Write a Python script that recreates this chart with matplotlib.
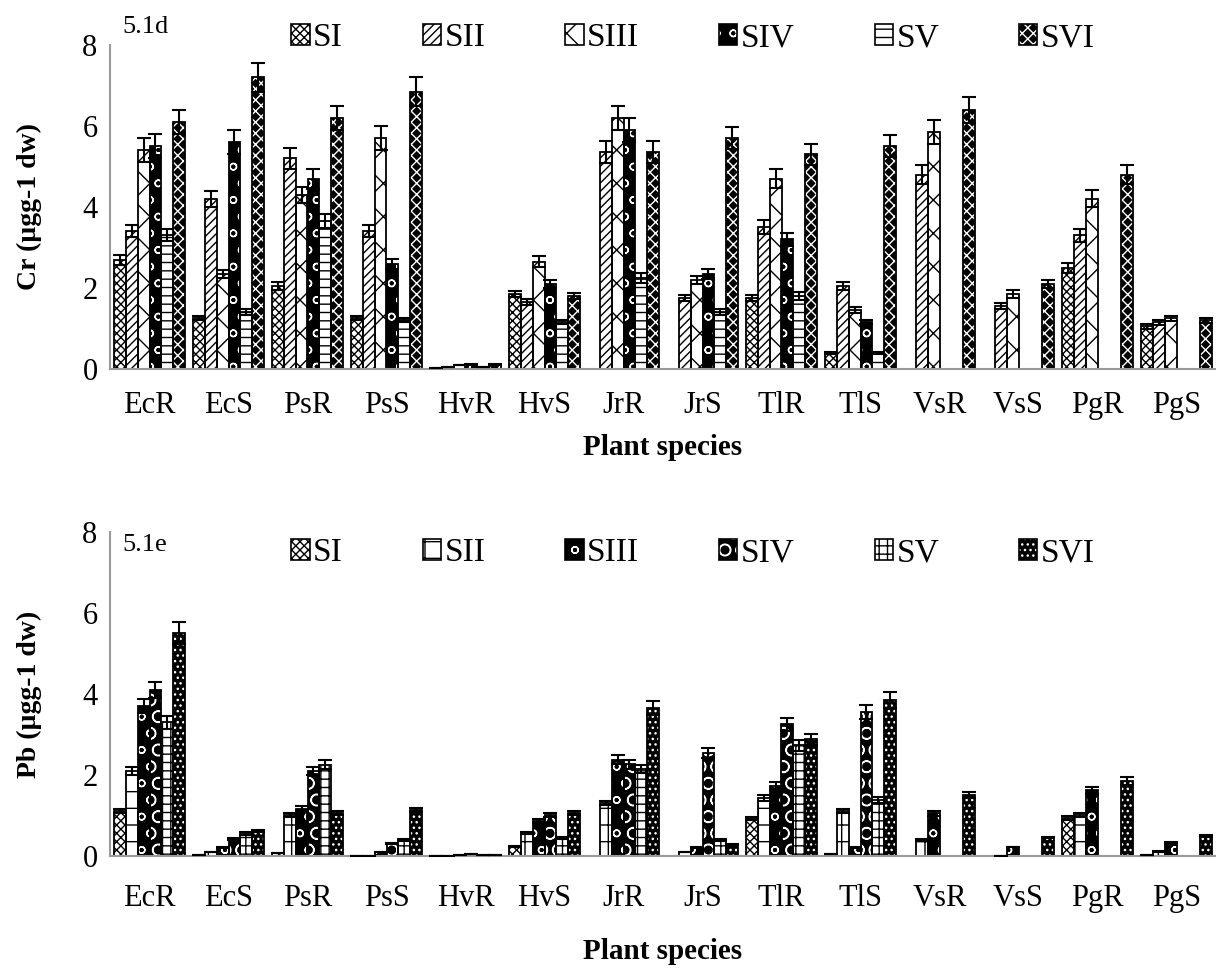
import matplotlib
matplotlib.use("Agg")
import matplotlib.pyplot as plt
import matplotlib.patches as mpatches
from matplotlib.legend_handler import HandlerTuple
import numpy as np

plt.rcParams['font.family'] = ['Liberation Serif', 'DejaVu Serif']
plt.rcParams['hatch.linewidth'] = 1.0

species = ["EcR", "EcS", "PsR", "PsS", "HvR", "HvS", "JrR", "JrS", "TlR", "TlS", "VsR", "VsS", "PgR", "PgS"]
sites = ["SI", "SII", "SIII", "SIV", "SV", "SVI"]

# Cr (5.1d), one list per site, 0 = no bar
cr_SI = [2.7, 1.25, 2.05, 1.25, 0.02, 1.85, 0, 0, 1.75, 0.4, 0, 0, 2.5, 1.05]
cr_SII = [3.4, 4.2, 5.2, 3.4, 0.04, 1.65, 5.35, 1.75, 3.5, 2.05, 4.8, 1.55, 3.3, 1.15]
cr_SIII = [5.4, 2.35, 4.3, 5.7, 0.1, 2.65, 6.2, 2.2, 4.7, 1.45, 5.85, 1.85, 4.2, 1.25]
cr_SIV = [5.5, 5.6, 4.7, 2.6, 0.12, 2.1, 5.9, 2.35, 3.2, 1.15, 0, 0, 0, 0]
cr_SV = [3.3, 1.4, 3.65, 1.2, 0.05, 1.15, 2.25, 1.4, 1.8, 0.4, 0, 0, 0, 0]
cr_SVI = [6.1, 7.2, 6.2, 6.85, 0.12, 1.8, 5.35, 5.7, 5.3, 5.5, 6.4, 2.1, 4.8, 1.2]

cr_err_SI = [0.12, 0.05, 0.1, 0.05, 0, 0.08, 0, 0, 0.08, 0.02, 0, 0, 0.12, 0.05]
cr_err_SII = [0.15, 0.2, 0.25, 0.15, 0, 0.07, 0.27, 0.08, 0.17, 0.1, 0.24, 0.08, 0.16, 0.06]
cr_err_SIII = [0.3, 0.1, 0.2, 0.3, 0.01, 0.13, 0.3, 0.1, 0.23, 0.07, 0.29, 0.09, 0.21, 0.06]
cr_err_SIV = [0.3, 0.3, 0.25, 0.12, 0.01, 0.1, 0.3, 0.12, 0.16, 0.05, 0, 0, 0, 0]
cr_err_SV = [0.15, 0.07, 0.18, 0.05, 0, 0.05, 0.12, 0.07, 0.09, 0.02, 0, 0, 0, 0]
cr_err_SVI = [0.3, 0.35, 0.3, 0.35, 0.01, 0.08, 0.27, 0.28, 0.26, 0.27, 0.32, 0.1, 0.24, 0.06]

# Pb (5.1e)
pb_SI = [1.1, 0.02, 0.07, 0.01, 0.01, 0.24, 0, 0, 0.93, 0.04, 0, 0, 0.94, 0.02]
pb_SII = [2.1, 0.11, 1.02, 0.01, 0.01, 0.57, 1.31, 0.1, 1.43, 1.12, 0.4, 0.01, 1.02, 0.12]
pb_SIII = [3.7, 0.21, 1.17, 0.11, 0.03, 0.87, 2.38, 0.21, 1.73, 0.21, 1.05, 0.22, 1.62, 0.32]
pb_SIV = [4.1, 0.42, 2.1, 0.31, 0.05, 1.02, 2.27, 2.55, 3.25, 3.55, 0, 0, 0, 0]
pb_SV = [3.3, 0.56, 2.25, 0.39, 0.02, 0.44, 2.14, 0.4, 2.73, 1.38, 0, 0, 0, 0]
pb_SVI = [5.5, 0.62, 1.07, 1.13, 0.02, 1.06, 3.65, 0.28, 2.88, 3.85, 1.5, 0.46, 1.85, 0.5]

pb_err_SI = [0.05, 0, 0, 0, 0, 0.01, 0, 0, 0.04, 0, 0, 0, 0.04, 0]
pb_err_SII = [0.1, 0, 0.05, 0, 0, 0.03, 0.06, 0, 0.07, 0.05, 0.02, 0, 0.05, 0.01]
pb_err_SIII = [0.18, 0.01, 0.06, 0, 0, 0.04, 0.12, 0.01, 0.09, 0.01, 0.05, 0.01, 0.08, 0.02]
pb_err_SIV = [0.2, 0.02, 0.1, 0.02, 0, 0.05, 0.11, 0.12, 0.16, 0.17, 0, 0, 0, 0]
pb_err_SV = [0.16, 0.03, 0.11, 0.02, 0, 0.02, 0.1, 0.02, 0.13, 0.07, 0, 0, 0, 0]
pb_err_SVI = [0.27, 0.03, 0.05, 0.05, 0, 0.05, 0.18, 0.01, 0.14, 0.19, 0.07, 0.02, 0.09, 0.02]

cr_vals = [cr_SI, cr_SII, cr_SIII, cr_SIV, cr_SV, cr_SVI]
cr_errs = [cr_err_SI, cr_err_SII, cr_err_SIII, cr_err_SIV, cr_err_SV, cr_err_SVI]
pb_vals = [pb_SI, pb_SII, pb_SIII, pb_SIV, pb_SV, pb_SVI]
pb_errs = [pb_err_SI, pb_err_SII, pb_err_SIII, pb_err_SIV, pb_err_SV, pb_err_SVI]

# (hatch, face, hatch colour) per site
cr_styles = [("xxxx", "white", "black"), ("////", "white", "black"), ("x", "white", "black"),
             ("o", "black", "white"), ("--", "white", "black"), ("xxx", "black", "white")]
pb_styles = [("xxxx", "white", "black"), ("+", "white", "black"), ("o", "black", "white"),
             ("O", "black", "white"), ("++", "white", "black"), ("...", "black", "white")]

W, H = 1216, 968
fig = plt.figure(figsize=(W / 100, H / 100), dpi=100)


def draw_panel(rect, vals, errs, styles, ylabel, tag, legend_y, tick_pad, xpad):
    ax = fig.add_axes(rect)
    x = np.arange(len(species))
    bw = 0.9 / len(sites)
    handles = []
    for i, (v, e) in enumerate(zip(vals, errs)):
        v = np.array(v, dtype=float)
        e = np.array(e, dtype=float)
        pos = x - 0.45 + bw * (i + 0.5)
        keep = v > 0
        hatch, face, hcol = styles[i]
        # fill + hatch layer, then black outline on top
        ax.bar(pos[keep], v[keep], width=bw, facecolor=face, edgecolor=hcol,
               linewidth=0, hatch=hatch, zorder=2)
        ax.bar(pos[keep], v[keep], width=bw, facecolor="none", edgecolor="black",
               linewidth=1.3, zorder=2.5)
        ax.errorbar(pos[keep], v[keep], yerr=e[keep], fmt="none", ecolor="black",
                    elinewidth=1.5, capsize=5, capthick=1.5, zorder=3)
        handles.append((mpatches.Patch(facecolor=face, edgecolor=hcol, hatch=hatch, linewidth=0),
                        mpatches.Patch(facecolor="none", edgecolor="black", linewidth=1.2)))
    ax.set_xlim(-0.5, len(species) - 0.5)
    ax.set_ylim(0, 8)
    ax.set_yticks([0, 2, 4, 6, 8])
    ax.set_xticks(x)
    ax.set_xticklabels(species)
    ax.tick_params(axis="x", length=0, labelsize=22, pad=tick_pad)
    ax.tick_params(axis="y", length=0, labelsize=22, pad=9)
    for s in ["top", "right"]:
        ax.spines[s].set_visible(False)
    for s in ["left", "bottom"]:
        ax.spines[s].set_color("#9a9a9a")
        ax.spines[s].set_linewidth(1.5)
    ax.set_ylabel(ylabel, fontsize=20, fontweight="bold")
    ax.yaxis.set_label_coords((42 - 110) / 1106, 0.5)
    ax.set_xlabel("Plant species", fontsize=21, fontweight="bold", labelpad=xpad)
    fig.text(122 / W, 1 - legend_y[0] / H, tag, fontsize=19, va="center", ha="left")
    ax.legend(handles, sites, handler_map={tuple: HandlerTuple(ndivide=1, pad=0)},
              loc="center", bbox_to_anchor=(693 / W, 1 - legend_y[1] / H),
              bbox_transform=fig.transFigure, ncol=6, frameon=False, fontsize=24,
              handlelength=0.55, handleheight=0.55, handletextpad=0.1,
              columnspacing=2.4, borderaxespad=0)
    return ax


left = 110 / W
width = 1106 / W
h = 324 / H
draw_panel([left, 1 - 369 / H, width, h], cr_vals, cr_errs, cr_styles,
           "Cr (µgg-1 dw)", "5.1d", (27, 38), 16, 10)
draw_panel([left, 1 - 856 / H, width, h], pb_vals, pb_errs, pb_styles,
           "Pb (µgg-1 dw)", "5.1e", (545, 553), 20, 18)

fig.savefig("out.png", dpi=100)
